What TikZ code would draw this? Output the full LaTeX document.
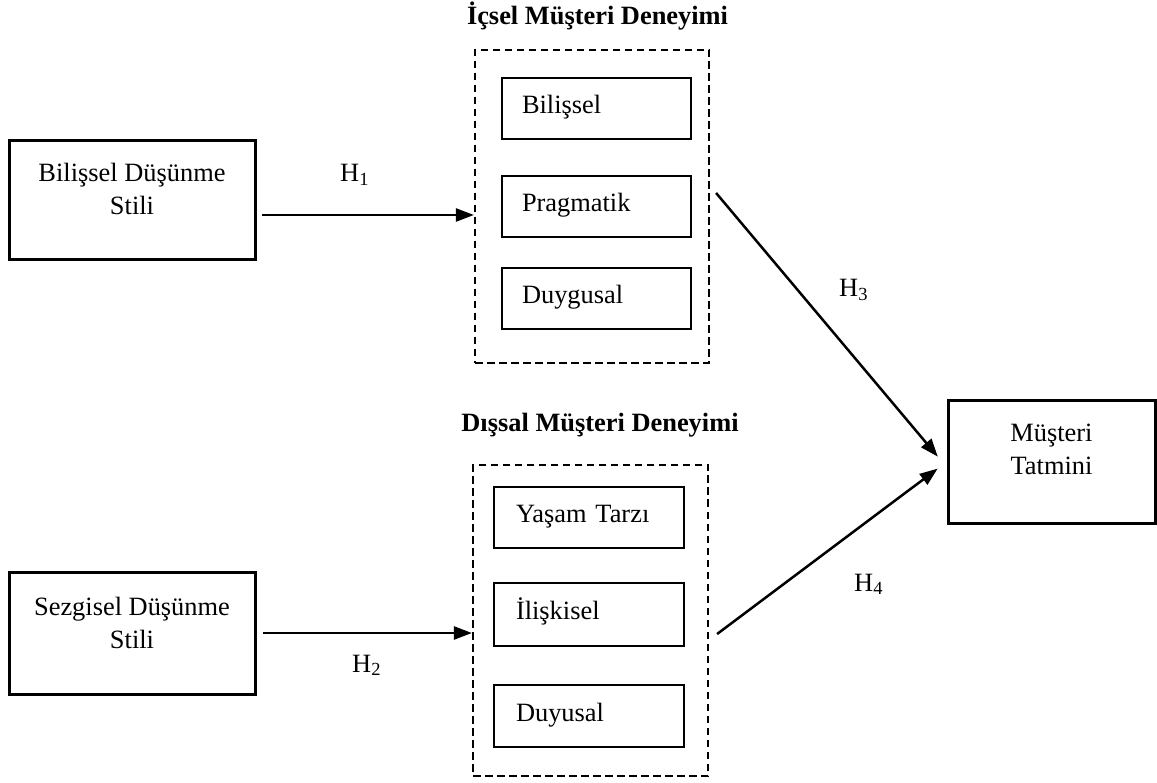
\documentclass[tikz,border=0pt]{standalone}
\usepackage{fontspec}
\setmainfont{Liberation Serif}
\usetikzlibrary{arrows.meta}
\begin{document}
\begin{tikzpicture}[x=1pt,y=-1pt,
  font=\fontsize{26.4}{33}\selectfont,
  outer/.style={draw, line width=3pt, inner sep=0pt, align=center},
  innerbox/.style={draw, line width=2pt, minimum height=61pt, inner ysep=0pt,
    align=left, text height=17pt, text depth=7pt},
  upperin/.style={innerbox, text width=149pt, inner xsep=20pt},
  lowerin/.style={innerbox, text width=146pt, inner xsep=22pt},
  dashbox/.style={draw, line width=2.2pt, dash pattern=on 7.5pt off 4.5pt, inner sep=0pt},
  title/.style={font=\fontsize{26.4}{33}\selectfont\bfseries, anchor=base, inner sep=0pt},
  hlabel/.style={anchor=base west, inner sep=0pt},
  arr/.style={-{Triangle[length=18pt,width=13pt]}, line width=2.5pt}
]
\useasboundingbox (0,0) rectangle (1157,783);

% left boxes
\node[outer, minimum width=246pt, minimum height=119pt] (b1) at (132,200.5)
  {\rule{0pt}{20pt}Bilişsel Düşünme\\Stili\rule[-24pt]{0pt}{24pt}};
\node[outer, minimum width=246pt, minimum height=122pt] (b2) at (132,633)
  {\rule{0pt}{20pt}Sezgisel Düşünme\\Stili\rule[-23pt]{0pt}{23pt}};

% right box
\node[outer, minimum width=207pt, minimum height=122pt] (m) at (1051.5,462)
  {\rule{0pt}{20pt}Müşteri\\Tatmini\rule[-27pt]{0pt}{27pt}};

% titles
\node[title] (t1) at (597.5,25) {İçsel Müşteri Deneyimi};
\node[title] (t2) at (600,432) {Dışsal Müşteri Deneyimi};

% dashed groups
\node[dashbox, minimum width=234pt, minimum height=313pt] (d1) at (592,206.5) {};
\node[dashbox, minimum width=235pt, minimum height=311pt] (d2) at (590.5,620.5) {};

% inner boxes (upper)
\node[upperin] (i1) at (596.5,109) {Bilişsel};
\node[upperin] (i2) at (596.5,206.5) {Pragmatik};
\node[upperin] (i3) at (596.5,298.5) {Duygusal};

% inner boxes (lower)
\node[lowerin] (e1) at (589,517.5) {Yaşam Tarzı};
\node[lowerin, minimum height=63pt] (e2) at (589,614.5) {İlişkisel};
\node[lowerin, minimum height=62pt] (e3) at (589,716) {Duyusal};

% arrows
\draw[arr, shorten <=5.5pt] ([yshift=-14.5pt]b1.east) -- ([yshift=-14.5pt]b1.east -| d1.west);
\draw[arr, shorten <=6.5pt] (b2.east) -- (b2.east -| d2.west);
\draw[arr, shorten >=13.5pt] ([shift={(6,-13.5)}]d1.east) -- ([yshift=-5pt]m.west);
\draw[arr, shorten >=11pt] ([shift={(8,13.5)}]d2.east) -- (m.west);

% hypothesis labels
\node[hlabel] (h1) at (340,182) {H\textsubscript{1}};
\node[hlabel] (h2) at (352,672) {H\textsubscript{2}};
\node[hlabel] (h3) at (839,297) {H\textsubscript{3}};
\node[hlabel] (h4) at (854,591) {H\textsubscript{4}};
\end{tikzpicture}
\end{document}
